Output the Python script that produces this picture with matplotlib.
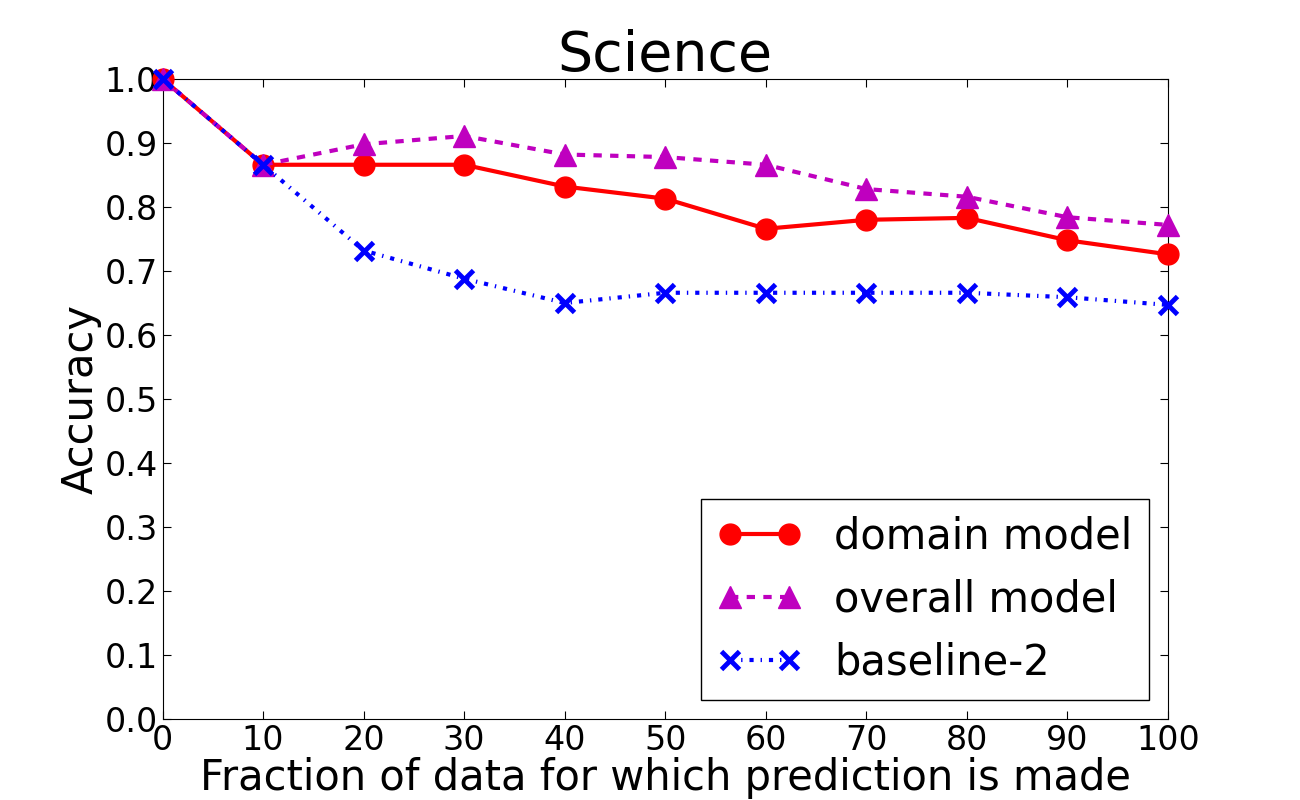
import matplotlib
matplotlib.use('Agg')
import matplotlib.pyplot as plt

fraction = [0, 10, 20, 30, 40, 50, 60, 70, 80, 90, 100]
domain_model = [1.0, 0.866, 0.866, 0.866, 0.832, 0.813, 0.766, 0.780, 0.783, 0.748, 0.726]
overall_model = [1.0, 0.866, 0.898, 0.911, 0.882, 0.878, 0.866, 0.828, 0.816, 0.784, 0.772]
baseline_2 = [1.0, 0.866, 0.732, 0.688, 0.650, 0.666, 0.666, 0.666, 0.666, 0.659, 0.647]

fig = plt.figure(figsize=(13, 8), dpi=100)
ax = fig.add_axes([0.125, 0.10125, 0.7735, 0.8])

ax.plot(fraction, domain_model, color='r', lw=3, marker='o', markersize=15,
        markeredgecolor='r', label='domain model', clip_on=False, zorder=3)
ax.plot(fraction, overall_model, color='m', lw=3, marker='^', markersize=16,
        markeredgecolor='m', dashes=(2, 2), label='overall model', clip_on=False, zorder=3)
ax.plot(fraction, baseline_2, color='b', lw=3, marker='x', markersize=13,
        markeredgewidth=3.5, dashes=(1, 1.67, 0.33, 1.67), label='baseline-2',
        clip_on=False, zorder=3)

ax.set_xlim(0, 100)
ax.set_ylim(0, 1.0)
ax.set_xticks(fraction)
ax.set_yticks([i / 10 for i in range(11)])
ax.set_yticklabels(['%.1f' % (i / 10) for i in range(11)])
ax.tick_params(labelsize=24, direction='in', length=6, top=True, right=True)
ax.set_title('Science', fontsize=40)
ax.set_xlabel('Fraction of data for which prediction is made', fontsize=30, labelpad=0)
ax.set_ylabel('Accuracy', fontsize=30, labelpad=2)

leg = ax.legend(loc='lower right', fontsize=30, numpoints=2, fancybox=False,
                handlelength=2.0, handletextpad=0.8, labelspacing=0.5,
                borderaxespad=0.45)
leg.get_frame().set_edgecolor('black')
leg.get_frame().set_alpha(1)

fig.savefig('out.png', dpi=100)
